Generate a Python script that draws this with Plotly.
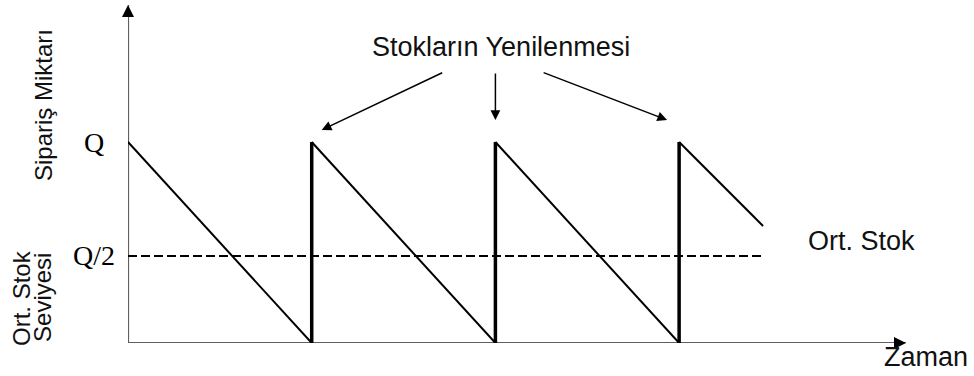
import plotly.graph_objects as go

# ---- data (time in order cycles, stock as fraction of Q) ----
Q_LEVEL = 1.0
AVG_LEVEL = 0.433           # drawn "Q/2" level
replenish_t = [1, 2, 3]     # replenishment moments
diag_t = [0, 1, None, 1, 2, None, 2, 3, None, 3, 3.457]
diag_stock = [1, 0, None, 1, 0, None, 1, 0, None, 1, 0.582]
avg_t = [0, 3.457]
x_max, y_max = 4.235, 1.6816

y_tick_vals = [Q_LEVEL, AVG_LEVEL]
y_tick_text = ["Q", "Q/2"]

SANS = "Liberation Sans, Arial, sans-serif"
SERIF = "Liberation Serif, Times New Roman, serif"

fig = go.Figure()

# vertical replenishment jumps (thicker)
vt, vs = [], []
for t in replenish_t:
    vt += [t, t, None]
    vs += [0, Q_LEVEL, None]
fig.add_trace(go.Scatter(x=vt, y=vs, mode="lines",
                         line=dict(color="black", width=3.5), hoverinfo="skip"))
# consumption diagonals
fig.add_trace(go.Scatter(x=diag_t, y=diag_stock, mode="lines",
                         line=dict(color="black", width=2), hoverinfo="skip"))
# average stock dashed line
fig.add_trace(go.Scatter(x=avg_t, y=[AVG_LEVEL, AVG_LEVEL], mode="lines",
                         line=dict(color="black", width=2, dash="9px,4px"),
                         hoverinfo="skip"))

# gray axis lines
shapes = [
    dict(type="line", xref="x", yref="y", x0=0, y0=0, x1=x_max, y1=0,
         line=dict(color="#606060", width=2.2), layer="below"),
    dict(type="line", xref="x", yref="y", x0=0, y0=0, x1=0, y1=y_max,
         line=dict(color="#606060", width=2.2), layer="below"),
]

ann = []
# black arrowheads at axis ends
ann.append(dict(x=x_max, y=0, ax=-10, ay=0, xref="x", yref="y",
                showarrow=True, arrowhead=2, arrowsize=1.2, arrowwidth=2,
                arrowcolor="black", text=""))
ann.append(dict(x=0, y=y_max, ax=0, ay=10, xref="x", yref="y",
                showarrow=True, arrowhead=2, arrowsize=1.2, arrowwidth=2,
                arrowcolor="black", text=""))

# level labels
for v, txt in zip(y_tick_vals, y_tick_text):
    ann.append(dict(x=0, y=v, xref="x", yref="y", text=txt, showarrow=False,
                    xanchor="center", yanchor="middle", xshift=-34,
                    font=dict(family=SERIF, size=28, color="black")))

# replenishment arrows
shifts = [(10, 12, 122, -58), (0, 22, 0, -48), (-12, 22, -125, -48)]
for t, (xs, ys, axp, ayp) in zip(replenish_t, shifts):
    ann.append(dict(x=t, y=Q_LEVEL, xref="x", yref="y", xshift=xs, yshift=ys,
                    ax=axp, ay=ayp, showarrow=True, arrowhead=2, arrowsize=1.3,
                    arrowwidth=1.5, arrowcolor="black", text=""))

ann.append(dict(x=2.03, y=1.473, xref="x", yref="y", text="Stokların Yenilenmesi",
                showarrow=False, xanchor="center", yanchor="middle",
                font=dict(family=SANS, size=27, color="#111")))
ann.append(dict(x=3.69, y=AVG_LEVEL, xref="x", yref="y", text="Ort. Stok",
                showarrow=False, xanchor="left", yanchor="middle", yshift=15,
                font=dict(family=SANS, size=27, color="#111")))
ann.append(dict(x=4.104, y=0, xref="x", yref="y", text="Zaman",
                showarrow=False, xanchor="left", yanchor="middle", yshift=-14,
                font=dict(family=SANS, size=27, color="#111")))
# rotated axis titles
ann.append(dict(x=0, y=1.184, xref="x", yref="y", text="Sipariş Miktarı",
                showarrow=False, textangle=-90, xanchor="center", yanchor="middle",
                xshift=-85, font=dict(family=SANS, size=24, color="#111")))
ann.append(dict(x=0, y=0.224, xref="x", yref="y", text="Ort. Stok",
                showarrow=False, textangle=-90, xanchor="center", yanchor="middle",
                xshift=-106, font=dict(family=SANS, size=24, color="#111")))
ann.append(dict(x=0, y=0.224, xref="x", yref="y", text="Seviyesi",
                showarrow=False, textangle=-90, xanchor="center", yanchor="middle",
                xshift=-85, font=dict(family=SANS, size=24, color="#111")))

fig.update_layout(
    width=974, height=376,
    margin=dict(l=128, r=68, t=5, b=33),
    paper_bgcolor="white", plot_bgcolor="white",
    showlegend=False,
    xaxis=dict(range=[0, x_max], visible=False, fixedrange=True),
    yaxis=dict(range=[0, y_max], visible=False, fixedrange=True),
    shapes=shapes,
    annotations=ann,
)

fig.write_html("out.html", config={"displayModeBar": False},
               post_script="document.body.style.margin='0';document.body.style.overflow='hidden';")
